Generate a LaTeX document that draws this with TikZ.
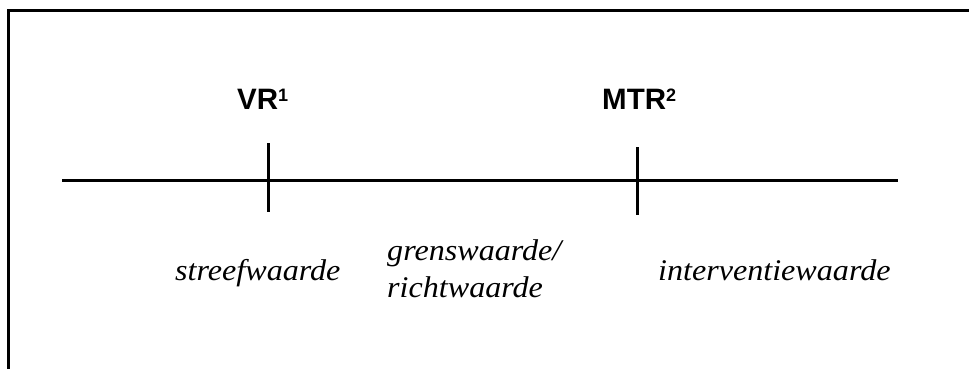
\documentclass[tikz,border=0pt]{standalone}
\usepackage{fontspec}
\usepackage{graphicx}
\setmainfont{Liberation Serif}
\newfontfamily\labelsans{Liberation Sans}
\newcommand{\levelsup}[1]{\raisebox{8pt}{\fontsize{18}{18}\selectfont #1}}
\begin{document}
\begin{tikzpicture}[x=1pt,y=-1pt,
  framestroke/.style={line width=3pt,line cap=rect},
  axisstroke/.style={line width=3pt},
  levellabel/.style={anchor=base west,inner sep=0pt,
    font=\labelsans\bfseries\fontsize{29.5}{30}\selectfont},
  rangelabel/.style={anchor=base west,inner sep=0pt,
    font=\itshape\fontsize{30}{37}\selectfont}]
  \useasboundingbox (0,0) rectangle (969,369);
  % open frame: top and left edges
  \coordinate (frameTL) at (8.5,10.5);
  \coordinate (frameTR) at (969,10.5);
  \coordinate (frameBL) at (8.5,369);
  \draw[framestroke] (frameTR) -- (frameTL) -- (frameBL);
  % axis with two level markers
  \coordinate (axisL) at (62,180);
  \coordinate (axisR) at (898,180);
  \draw[axisstroke] (axisL) -- (axisR);
  \coordinate (vrTop) at (268,143);
  \coordinate (vrBot) at (268,212);
  \coordinate (mtrTop) at (637,147);
  \coordinate (mtrBot) at (637,215);
  \draw[axisstroke] (vrTop) -- (vrBot);
  \draw[axisstroke] (mtrTop) -- (mtrBot);
  % level names
  \node[levellabel] (vr) at (237,109) {VR\levelsup{1}};
  \node[levellabel] (mtr) at (602,109) {MTR\levelsup{2}};
  % ranges between the levels
  \node[rangelabel] (streef) at (175,280) {\scalebox{1.07}[1]{streefwaarde}};
  \node[rangelabel] (grens) at (387,260) {\scalebox{1.07}[1]{grenswaarde/}};
  \node[rangelabel] (richt) at (387,297) {\scalebox{1.07}[1]{richtwaarde}};
  \node[rangelabel] (interv) at (658,280) {\scalebox{1.07}[1]{interventiewaarde}};
\end{tikzpicture}
\end{document}
